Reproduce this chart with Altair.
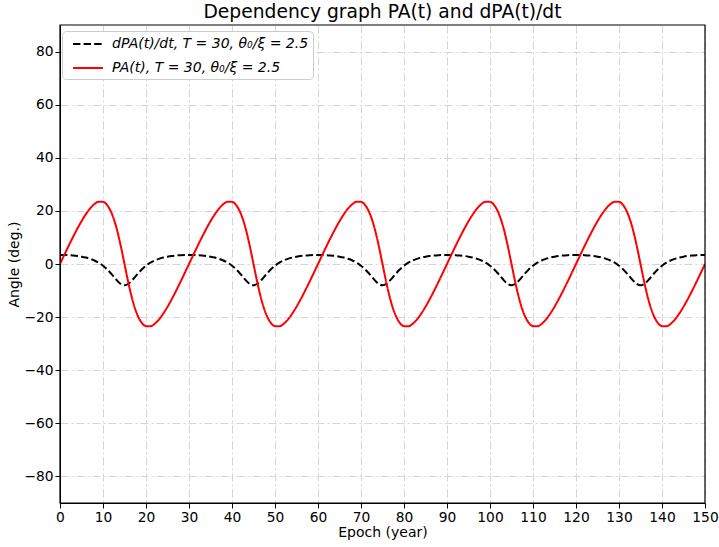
import altair as alt
import pandas as pd

years = list(range(0, 151))

pa_values = [
    0.00, 3.42, 6.80, 10.07, 13.20, 16.10, 18.70, 20.90, 22.55, 23.47,
    23.41, 22.11, 19.16, 14.38, 7.78, 0.00, -7.78, -14.38, -19.16, -22.11,
    -23.41, -23.47, -22.55, -20.90, -18.70, -16.10, -13.20, -10.07, -6.80, -3.42,
    0.00, 3.42, 6.80, 10.07, 13.20, 16.10, 18.70, 20.90, 22.55, 23.47,
    23.41, 22.11, 19.16, 14.38, 7.78, 0.00, -7.78, -14.38, -19.16, -22.11,
    -23.41, -23.47, -22.55, -20.90, -18.70, -16.10, -13.20, -10.07, -6.80, -3.42,
    0.00, 3.42, 6.80, 10.07, 13.20, 16.10, 18.70, 20.90, 22.55, 23.47,
    23.41, 22.11, 19.16, 14.38, 7.78, 0.00, -7.78, -14.38, -19.16, -22.11,
    -23.41, -23.47, -22.55, -20.90, -18.70, -16.10, -13.20, -10.07, -6.80, -3.42,
    0.00, 3.42, 6.80, 10.07, 13.20, 16.10, 18.70, 20.90, 22.55, 23.47,
    23.41, 22.11, 19.16, 14.38, 7.78, 0.00, -7.78, -14.38, -19.16, -22.11,
    -23.41, -23.47, -22.55, -20.90, -18.70, -16.10, -13.20, -10.07, -6.80, -3.42,
    0.00, 3.42, 6.80, 10.07, 13.20, 16.10, 18.70, 20.90, 22.55, 23.47,
    23.41, 22.11, 19.16, 14.38, 7.78, 0.00, -7.78, -14.38, -19.16, -22.11,
    -23.41, -23.47, -22.55, -20.90, -18.70, -16.10, -13.20, -10.07, -6.80, -3.42,
    0.00,
]

dpa_values = [
    3.43, 3.41, 3.34, 3.21, 3.03, 2.77, 2.42, 1.95, 1.32, 0.48,
    -0.63, -2.07, -3.83, -5.74, -7.35, -8.00, -7.35, -5.74, -3.83, -2.07,
    -0.63, 0.48, 1.32, 1.95, 2.42, 2.77, 3.03, 3.21, 3.34, 3.41,
    3.43, 3.41, 3.34, 3.21, 3.03, 2.77, 2.42, 1.95, 1.32, 0.48,
    -0.63, -2.07, -3.83, -5.74, -7.35, -8.00, -7.35, -5.74, -3.83, -2.07,
    -0.63, 0.48, 1.32, 1.95, 2.42, 2.77, 3.03, 3.21, 3.34, 3.41,
    3.43, 3.41, 3.34, 3.21, 3.03, 2.77, 2.42, 1.95, 1.32, 0.48,
    -0.63, -2.07, -3.83, -5.74, -7.35, -8.00, -7.35, -5.74, -3.83, -2.07,
    -0.63, 0.48, 1.32, 1.95, 2.42, 2.77, 3.03, 3.21, 3.34, 3.41,
    3.43, 3.41, 3.34, 3.21, 3.03, 2.77, 2.42, 1.95, 1.32, 0.48,
    -0.63, -2.07, -3.83, -5.74, -7.35, -8.00, -7.35, -5.74, -3.83, -2.07,
    -0.63, 0.48, 1.32, 1.95, 2.42, 2.77, 3.03, 3.21, 3.34, 3.41,
    3.43, 3.41, 3.34, 3.21, 3.03, 2.77, 2.42, 1.95, 1.32, 0.48,
    -0.63, -2.07, -3.83, -5.74, -7.35, -8.00, -7.35, -5.74, -3.83, -2.07,
    -0.63, 0.48, 1.32, 1.95, 2.42, 2.77, 3.03, 3.21, 3.34, 3.41,
    3.43,
]

series_names = ["dPA(t)/dt, T = 30, θ₀/ξ = 2.5", "PA(t), T = 30, θ₀/ξ = 2.5"]
x_ticks = list(range(0, 151, 10))
y_ticks = list(range(-80, 81, 20))

rows = []
for t, v in zip(years, dpa_values):
    rows.append({"year": t, "value": v, "series": series_names[0]})
for t, v in zip(years, pa_values):
    rows.append({"year": t, "value": v, "series": series_names[1]})
df = pd.DataFrame(rows)

FONT = "DejaVu Sans"
W, H = 645, 478
leg = alt.Legend(title=None, orient="none", legendX=2, legendY=6)

lines = (
    alt.Chart(df)
    .mark_line(strokeWidth=2, interpolate="monotone", clip=True)
    .encode(
        x=alt.X(
            "year:Q",
            scale=alt.Scale(domain=[0, 150], nice=False, zero=False),
            axis=alt.Axis(values=x_ticks, title="Epoch (year)", format="d", labelFlush=False),
        ),
        y=alt.Y(
            "value:Q",
            scale=alt.Scale(domain=[-90, 90], nice=False, zero=False),
            axis=alt.Axis(values=y_ticks, title="Angle (deg.)", format="d", labelFlush=False),
        ),
        color=alt.Color(
            "series:N",
            scale=alt.Scale(domain=series_names, range=["black", "red"]),
            legend=leg,
        ),
        strokeDash=alt.StrokeDash(
            "series:N",
            scale=alt.Scale(domain=series_names, range=[[7.4, 3.2], [1, 0]]),
            legend=leg,
        ),
    )
)

frame = (
    alt.Chart(pd.DataFrame({"f": [0]}))
    .mark_rect(fill="transparent", stroke="black", strokeWidth=1.2)
    .encode(x=alt.value(0), x2=alt.value(W), y=alt.value(0), y2=alt.value(H))
)

chart = (
    alt.layer(lines, frame)
    .properties(
        width=W,
        height=H,
        title=alt.TitleParams(
            "Dependency graph PA(t) and dPA(t)/dt",
            font=FONT,
            fontSize=18.7,
            fontWeight="normal",
            color="black",
            anchor="middle",
            offset=3,
        ),
        autosize=alt.AutoSizeParams(type="none"),
        padding={"left": 60, "top": 25, "right": 14, "bottom": 44},
    )
    .configure_view(stroke=None)
    .configure_axis(
        labelFont=FONT,
        titleFont=FONT,
        labelFontSize=13.8,
        titleFontSize=14,
        titleFontWeight="normal",
        labelColor="black",
        titleColor="black",
        domainColor="black",
        tickColor="black",
        tickSize=5,
        labelPadding=2,
        gridColor="#d6d6d6",
        gridDash=[8, 3, 2, 3],
        gridWidth=1,
    )
    .configure_axisX(titlePadding=2)
    .configure_axisY(titlePadding=2)
    .configure_legend(
        labelFont=FONT,
        labelFontSize=14,
        labelFontStyle="italic",
        labelColor="black",
        symbolType="M-0.25,0H3.5",
        symbolSize=256,
        symbolStrokeWidth=2,
        labelOffset=28,
        rowPadding=8,
        padding=4,
        fillColor="white",
        strokeColor="#cccccc",
        cornerRadius=4,
        labelLimit=400,
    )
)

chart.save("out.html", embed_options={"renderer": "svg", "actions": False})
